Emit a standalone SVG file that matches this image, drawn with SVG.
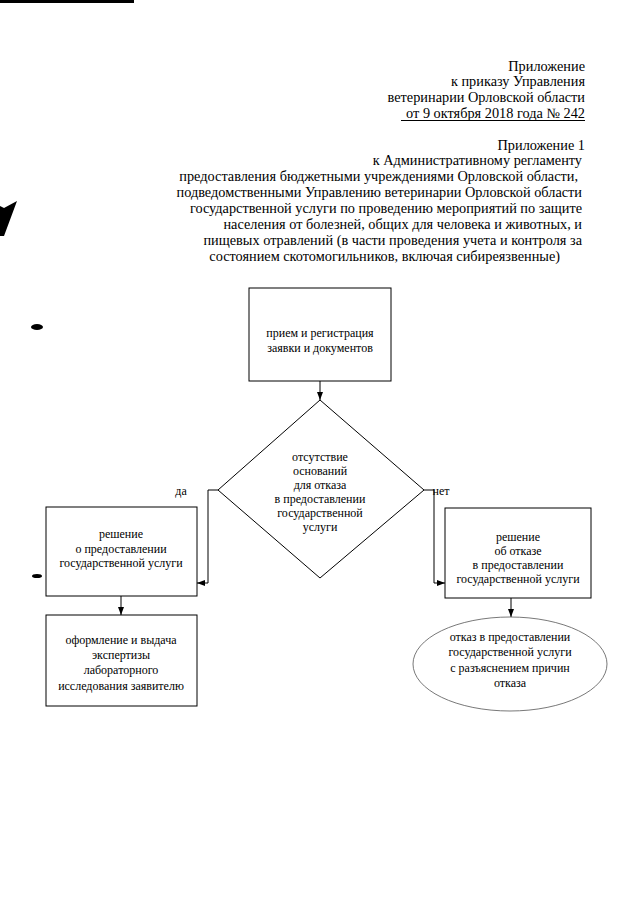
<svg xmlns="http://www.w3.org/2000/svg" width="640" height="905" viewBox="0 0 640 905">
<style>
.h{font-family:"Liberation Serif","Times New Roman","DejaVu Serif",serif;font-size:14.3px;fill:#000;text-anchor:end}
.t{font-family:"Liberation Serif","Times New Roman","DejaVu Serif",serif;font-size:12px;fill:#000;text-anchor:middle}
.b{fill:#fff;stroke:#000;stroke-width:1}
.c{fill:none;stroke:#000;stroke-width:1}
</style>
<defs>
<marker id="ar" markerWidth="8" markerHeight="8" refX="8" refY="4" orient="auto" markerUnits="userSpaceOnUse">
<path d="M0,1 L8,4 L0,7 Z" fill="#000"/>
</marker>
</defs>
<rect width="640" height="905" fill="#fff"/>
<g id="scan-marks" fill="#000">
<rect x="0" y="0" width="134" height="3"/>
<path d="M0,206 L4,208 L17,201 L4,236 L0,236 Z"/>
<ellipse cx="37" cy="327" rx="6" ry="3"/>
<ellipse cx="37" cy="576" rx="5" ry="2"/>
</g>
<g id="header">
<text class="h" x="585" y="71">Приложение</text>
<text class="h" x="585" y="86">к приказу Управления</text>
<text class="h" x="585" y="102">ветеринарии Орловской области</text>
<text class="h" x="585" y="118">от  9 октября 2018 года № 242</text>
<line x1="401" y1="120.5" x2="585" y2="120.5" stroke="#000" stroke-width="1"/>
<text class="h" x="585" y="150">Приложение 1</text>
<text class="h" x="582" y="165">к Административному регламенту</text>
<text class="h" x="578" y="181">предоставления бюджетными учреждениями Орловской области,</text>
<text class="h" x="582" y="197">подведомственными Управлению ветеринарии Орловской области</text>
<text class="h" x="582" y="213">государственной услуги по проведению мероприятий по защите</text>
<text class="h" x="582" y="229">населения от болезней, общих для человека и животных, и</text>
<text class="h" x="582" y="245">пищевых отравлений (в части проведения учета и контроля за</text>
<text class="h" x="560" y="261">состоянием скотомогильников, включая сибиреязвенные)</text>
</g>
<g id="connectors">
<line class="c" x1="320" y1="381" x2="320" y2="400" marker-end="url(#ar)"/>
<polyline class="c" points="218,490 208,490 208,583 197,583" marker-end="url(#ar)"/>
<polyline class="c" points="424,490 434,490 434,583 445,583" marker-end="url(#ar)"/>
<line class="c" x1="121" y1="596" x2="121" y2="615" marker-end="url(#ar)"/>
<line class="c" x1="511" y1="598" x2="511" y2="617" marker-end="url(#ar)"/>
<text class="t" x="181" y="495">да</text>
<text class="t" x="441" y="495">нет</text>
</g>
<g id="node-start">
<rect class="b" x="249" y="288" width="142" height="93"/>
<text class="t" x="320" y="337">прием и регистрация</text>
<text class="t" x="320" y="352">заявки и документов</text>
</g>
<g id="node-decision">
<polygon class="b" points="320,400 424,490 320,578 218,490"/>
<text class="t" x="320" y="461">отсутствие</text>
<text class="t" x="320" y="475">оснований</text>
<text class="t" x="320" y="489">для отказа</text>
<text class="t" x="320" y="503">в предоставлении</text>
<text class="t" x="320" y="517">государственной</text>
<text class="t" x="320" y="531">услуги</text>
</g>
<g id="node-yes">
<rect class="b" x="46" y="507" width="151" height="89"/>
<text class="t" x="121" y="538">решение</text>
<text class="t" x="121" y="553">о предоставлении</text>
<text class="t" x="121" y="567">государственной услуги</text>
</g>
<g id="node-issue">
<rect class="b" x="46" y="615" width="151" height="91"/>
<text class="t" x="121" y="644">оформление и выдача</text>
<text class="t" x="121" y="659">экспертизы</text>
<text class="t" x="121" y="674">лабораторного</text>
<text class="t" x="121" y="690">исследования заявителю</text>
</g>
<g id="node-no">
<rect class="b" x="445" y="508" width="146" height="90"/>
<text class="t" x="518" y="541">решение</text>
<text class="t" x="518" y="555">об отказе</text>
<text class="t" x="518" y="569">в предоставлении</text>
<text class="t" x="518" y="583">государственной услуги</text>
</g>
<g id="node-refusal">
<ellipse cx="510" cy="664" rx="97" ry="47" fill="#fff" stroke="#555" stroke-width="0.8"/>
<text class="t" x="510" y="641">отказ в предоставлении</text>
<text class="t" x="510" y="656">государственной услуги</text>
<text class="t" x="510" y="672">с разъяснением причин</text>
<text class="t" x="510" y="687">отказа</text>
</g>
</svg>
